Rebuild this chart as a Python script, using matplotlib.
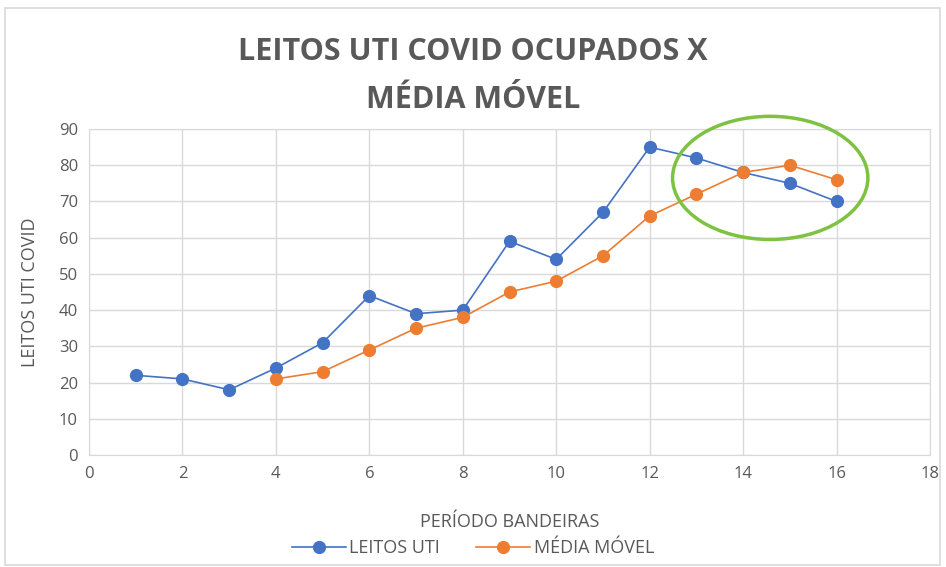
import matplotlib
matplotlib.use("Agg")
import matplotlib.pyplot as plt
from matplotlib.patches import Ellipse, Rectangle

periods_uti = [1, 2, 3, 4, 5, 6, 7, 8, 9, 10, 11, 12, 13, 14, 15, 16]
leitos_uti = [22, 21, 18, 24, 31, 44, 39, 40, 59, 54, 67, 85, 82, 78, 75, 70]
periods_mm = [4, 5, 6, 7, 8, 9, 10, 11, 12, 13, 14, 15, 16]
media_movel = [21, 23, 29, 35, 38, 45, 48, 55, 66, 72, 78, 80, 76]

plt.rcParams['font.family'] = ['Open Sans', 'DejaVu Sans']
txt = '#595959'

fig = plt.figure(figsize=(9.46, 5.67), dpi=100)
fig.patches.append(Rectangle((5/946, 2/567), 935/946, 557/567, transform=fig.transFigure,
                             fill=False, edgecolor='#d9d9d9', linewidth=1.2))
ax = fig.add_axes([89/946, 1-455/567, 841/946, 326/567])

ax.plot(periods_uti, leitos_uti, color='#4472C4', marker='o', markersize=8.5, linewidth=1.2,
        label='LEITOS UTI', zorder=3)
ax.plot(periods_mm, media_movel, color='#ED7D31', marker='o', markersize=8.5, linewidth=1.2,
        label='MÉDIA MÓVEL', zorder=3)

ax.add_patch(Ellipse((14.58, 76.5), 4.18, 34.0, fill=False, edgecolor='#7DC242', linewidth=2.5,
                     zorder=4, clip_on=False))

ax.set_xlim(0, 18)
ax.set_ylim(0, 90)
ax.set_xticks(range(0, 19, 2))
ax.set_yticks(range(0, 91, 10))
ax.grid(True, color='#d9d9d9', linewidth=1)
ax.set_axisbelow(True)
for s in ax.spines.values():
    s.set_color('#d9d9d9')
ax.tick_params(length=0, labelsize=12, colors=txt, pad=8)

ax.set_xlabel('PERÍODO BANDEIRAS', fontsize=13, color=txt, labelpad=22)
ax.set_ylabel('LEITOS UTI COVID', fontsize=13, color=txt, labelpad=14)

fig.text(0.5, 1-76/567, 'LEITOS UTI COVID OCUPADOS X\nMÉDIA MÓVEL', ha='center', va='center',
         fontsize=22, fontweight='bold', color=txt, linespacing=1.75)

ax.legend(loc='center', bbox_to_anchor=(0.5, 1-548/567), bbox_transform=fig.transFigure, ncol=2,
          frameon=False, fontsize=13, labelcolor=txt, handlelength=3, columnspacing=2, handletextpad=0.2)

fig.savefig('out.png', dpi=100)
